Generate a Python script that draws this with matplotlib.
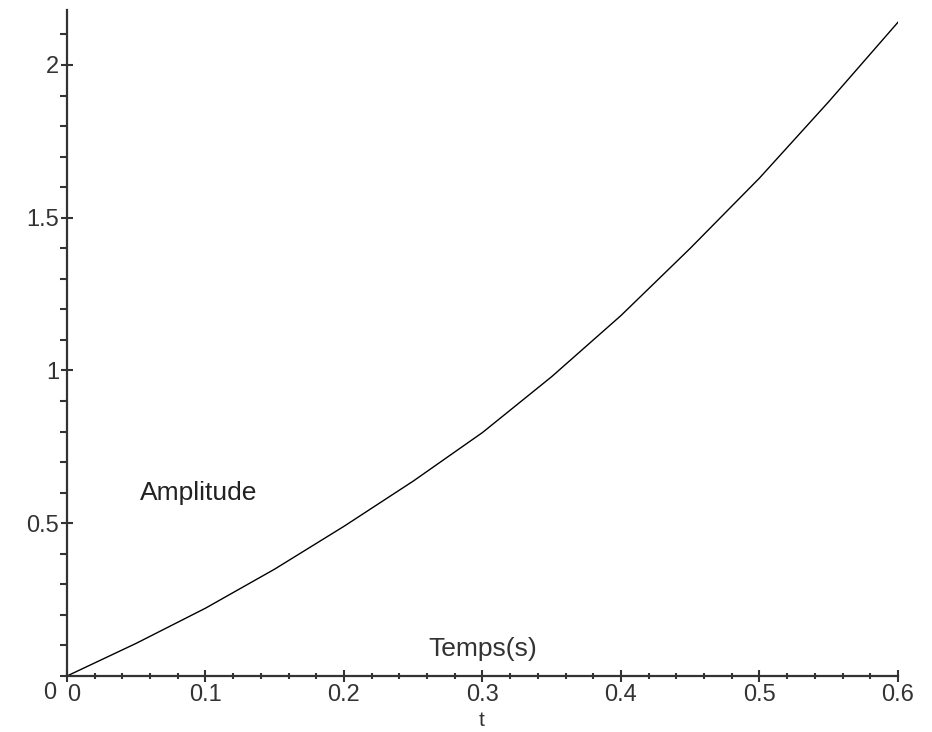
import matplotlib
matplotlib.use("Agg")
import matplotlib.pyplot as plt
from matplotlib.ticker import MultipleLocator, FixedLocator

# Data
t_values = [0.0, 0.05, 0.1, 0.15, 0.2, 0.25, 0.3, 0.35, 0.4, 0.45, 0.5, 0.55, 0.6]
amplitude = [0.0, 0.107, 0.222, 0.35, 0.49, 0.638, 0.797, 0.98, 1.18, 1.40, 1.63, 1.88, 2.14]
x_ticks = [0.1, 0.2, 0.3, 0.4, 0.5, 0.6]
x_tick_labels = ["0.1", "0.2", "0.3", "0.4", "0.5", "0.6"]
y_ticks = [0.5, 1.0, 1.5, 2.0]
y_tick_labels = ["0.5", "1", "1.5", "2"]

plt.rcParams['font.family'] = ['Liberation Sans', 'DejaVu Sans']

fig = plt.figure(figsize=(9.32, 7.32), dpi=100)
ax = fig.add_axes([67/932, 1 - 676/732, (898-67)/932, (676-10)/732])

ax.plot(t_values, amplitude, color='black', linewidth=1.0)

ax.set_xlim(0, 0.6)
ax.set_ylim(0, 2.18)

for s in ['top', 'right']:
    ax.spines[s].set_visible(False)
for s in ['left', 'bottom']:
    ax.spines[s].set_linewidth(1.6)
    ax.spines[s].set_color('#333333')

ax.xaxis.set_major_locator(FixedLocator([0.0] + x_ticks))
ax.set_xticklabels(["0"] + x_tick_labels)
ax.xaxis.set_minor_locator(MultipleLocator(0.02))
ax.yaxis.set_major_locator(FixedLocator(y_ticks))
ax.set_yticklabels(y_tick_labels)
ax.yaxis.set_minor_locator(MultipleLocator(0.1))

ax.tick_params(axis='x', which='major', direction='inout', length=9, width=1.5,
               labelsize=17, pad=1, colors='#333333')
ax.tick_params(axis='x', which='minor', direction='inout', length=5, width=1.5,
               colors='#333333')
ax.tick_params(axis='y', which='major', direction='inout', length=9, width=1.5,
               labelsize=17, pad=1, colors='#333333')
ax.tick_params(axis='y', which='minor', direction='out', length=5, width=1.5,
               colors='#333333')
for lbl in ax.get_xticklabels() + ax.get_yticklabels():
    lbl.set_color('#333333')

# corner "0" for y axis
ax.text(-0.008, -0.02, "0", transform=ax.transData, ha='right', va='top',
        fontsize=17, color='#333333')
ax.get_xticklabels()[0].set_horizontalalignment('left')

ax.text(0.3, 0.09, "Temps(s)", ha='center', va='center', fontsize=19, color='#333333')
ax.text(0.053, 0.60, "Amplitude", ha='left', va='center', fontsize=19, color='#222222')
fig.text(482/932, 1 - 721/732, "t", ha='center', va='center', fontsize=15, color='#333333')

fig.savefig("out.png", dpi=100)
